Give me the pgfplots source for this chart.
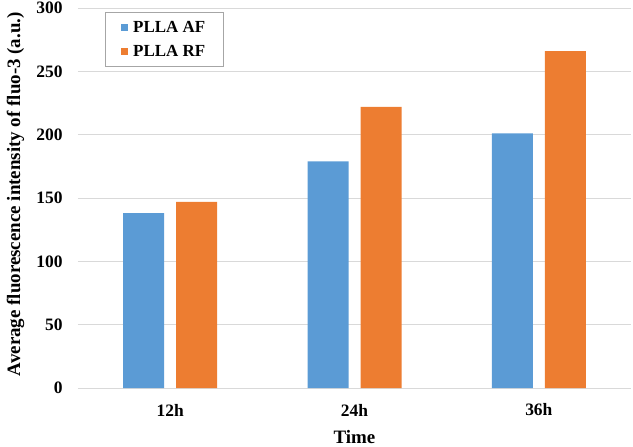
\documentclass[border=0pt]{standalone}
\usepackage{pgfplots}
\pgfplotsset{compat=1.18}
\usepackage{fontspec}
\setmainfont{Liberation Serif}
\definecolor{afblue}{HTML}{5B9BD5}
\definecolor{rforange}{HTML}{ED7D31}
\definecolor{gridgray}{HTML}{D9D9D9}
\begin{document}
\begin{tikzpicture}
\begin{axis}[
  name=ax,
  scale only axis,
  width=553bp, height=380bp,
  ybar=12bp, bar width=41bp,
  xmin=-0.5, xmax=2.5,
  ymin=0, ymax=300,
  ytick={0,50,...,300},
  xtick=data,
  xticklabels={12h,24h,36h},
  ymajorgrids, grid style={gridgray, line width=0.8pt},
  axis x line*=bottom,
  x axis line style={gridgray, line width=0.8pt},
  y axis line style={draw=none},
  major tick length=0pt,
  tick label style={font=\fontsize{17.5}{20}\selectfont\bfseries},
  xticklabel style={anchor=center, yshift=-22bp},
  yticklabel style={anchor=east, xshift=-12bp},
  /pgf/number format/assume math mode=true,
  xlabel={Time},
  ylabel={Average fluorescence intensity of fluo-3 (a.u.)},
  label style={font=\fontsize{19}{22}\selectfont\bfseries},
  xlabel style={at={(axis description cs:0.5,-0.129)}, anchor=center},
  ylabel style={at={(axis description cs:-0.113,0.51)}, anchor=center},
  legend style={at={(0.049,0.989)}, anchor=north west, draw=gray!70,
    font=\fontsize{17}{20}\selectfont\bfseries, inner xsep=16pt, inner ysep=7pt,
    row sep=7pt},
  legend cell align=left,
  legend image code/.code={\fill[#1] (0bp,-3.5bp) rectangle (7bp,3.5bp); \path (10bp,0bp);},
]
\addplot[fill=afblue, draw=none] coordinates {(0,138) (1,179) (2,201)};
\addplot[fill=rforange, draw=none] coordinates {(0,147) (1,222) (2,266)};
\legend{PLLA AF, PLLA RF}
\end{axis}
\pgfresetboundingbox
\path[use as bounding box] ([shift={(-78bp,-59bp)}]ax.south west) rectangle ([shift={(2bp,8bp)}]ax.north east);
\end{tikzpicture}
\end{document}
